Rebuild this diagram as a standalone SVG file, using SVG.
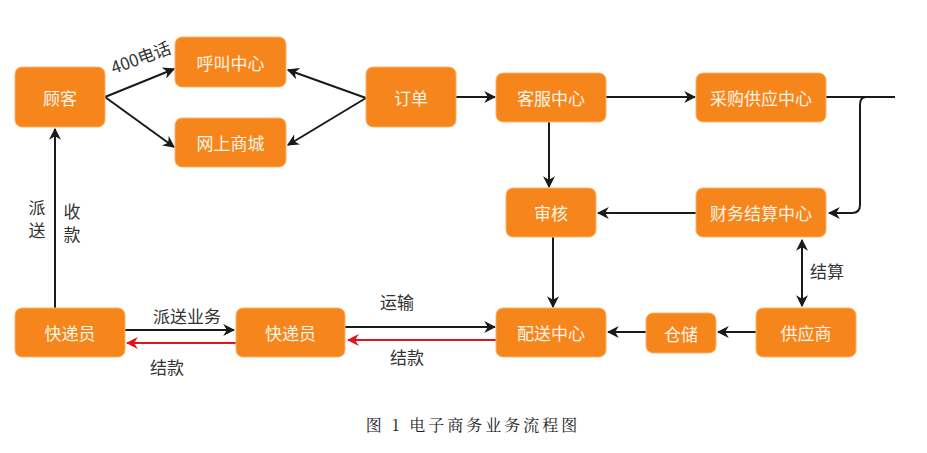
<svg xmlns="http://www.w3.org/2000/svg" width="927" height="453" viewBox="0 0 927 453">
<defs>
<style>
.n rect{fill:#F6851B;stroke:#FBB26A;stroke-width:1}
.n text{fill:#FFF4E6;font-family:"Noto Sans CJK SC","Noto Sans",sans-serif;font-size:17px;text-anchor:middle;dominant-baseline:central}
.c path{fill:none;stroke:#1a1a1a;stroke-width:2}
.c path.r{stroke:#E0141C}
.lb{fill:#333;font-family:"Noto Sans CJK SC","Noto Sans",sans-serif;font-size:17px}
</style>
<marker id="a" viewBox="0 0 10 10" refX="9" refY="5" markerWidth="6" markerHeight="6" orient="auto-start-reverse" markerUnits="strokeWidth"><path d="M0,0 L10,5 L0,10 L3,5 Z" fill="#1a1a1a"/></marker>
<marker id="ar" viewBox="0 0 10 10" refX="9" refY="5" markerWidth="6" markerHeight="6" orient="auto" markerUnits="strokeWidth"><path d="M0,0 L10,5 L0,10 L3,5 Z" fill="#E0141C"/></marker>
</defs>
<rect width="927" height="453" fill="#fff"/>
<g class="c">
<path d="M105,97 L174,69" marker-end="url(#a)"/>
<path d="M105,97 L174,147" marker-end="url(#a)"/>
<path d="M366,98 L288,70" marker-end="url(#a)"/>
<path d="M366,98 L288,145" marker-end="url(#a)"/>
<path d="M456,97 L495,97" marker-end="url(#a)"/>
<path d="M606,97 L695,97" marker-end="url(#a)"/>
<path d="M826,97 L895,97"/>
<path d="M866,97 Q860,97 860,105 L860,205 Q860,213 852,213 L829,213" marker-end="url(#a)"/>
<path d="M549,122 L549,187" marker-end="url(#a)"/>
<path d="M696,213 L598,213" marker-end="url(#a)"/>
<path d="M553,237 L553,307" marker-end="url(#a)"/>
<path d="M802,240 L802,306" marker-start="url(#a)" marker-end="url(#a)"/>
<path d="M756,332 L718,332" marker-end="url(#a)"/>
<path d="M646,332 L608,332" marker-end="url(#a)"/>
<path d="M55,308 L55,129" marker-end="url(#a)"/>
<path d="M125,330 L234,330" marker-end="url(#a)"/>
<path class="r" d="M236,343 L127,343" marker-end="url(#ar)"/>
<path d="M345,327 L495,327" marker-end="url(#a)"/>
<path class="r" d="M496,340 L348,340" marker-end="url(#ar)"/>
</g>
<g id="guke" class="n"><rect x="15" y="67" width="90" height="60" rx="7"/><text x="60" y="97">顾客</text></g>
<g id="hujiao" class="n"><rect x="175" y="37" width="111" height="50" rx="7"/><text x="230.5" y="62">呼叫中心</text></g>
<g id="wangshang" class="n"><rect x="175" y="118" width="111" height="49" rx="7"/><text x="230.5" y="142.5">网上商城</text></g>
<g id="dingdan" class="n"><rect x="366" y="67" width="90" height="60" rx="7"/><text x="411" y="97">订单</text></g>
<g id="kefu" class="n"><rect x="496" y="73" width="110" height="49" rx="7"/><text x="551" y="97.5">客服中心</text></g>
<g id="caigou" class="n"><rect x="696" y="73" width="130" height="49" rx="7"/><text x="761" y="97.5">采购供应中心</text></g>
<g id="shenhe" class="n"><rect x="506" y="188" width="90" height="49" rx="7"/><text x="551" y="212.5">审核</text></g>
<g id="caiwu" class="n"><rect x="696" y="188" width="130" height="49" rx="7"/><text x="761" y="212.5">财务结算中心</text></g>
<g id="kuaidi1" class="n"><rect x="15" y="308" width="110" height="49" rx="7"/><text x="70" y="332.5">快递员</text></g>
<g id="kuaidi2" class="n"><rect x="236" y="308" width="109" height="49" rx="7"/><text x="290.5" y="332.5">快递员</text></g>
<g id="peisong" class="n"><rect x="496" y="308" width="110" height="49" rx="7"/><text x="551" y="332.5">配送中心</text></g>
<g id="cangchu" class="n"><rect x="646" y="313" width="70" height="40" rx="7"/><text x="681" y="333">仓储</text></g>
<g id="gongying" class="n"><rect x="756" y="308" width="100" height="49" rx="7"/><text x="806" y="332.5">供应商</text></g>
<g id="labels">
<text class="lb" x="141" y="64" text-anchor="middle" transform="rotate(-20 141 58)">400电话</text>
<text class="lb" x="37" y="214" text-anchor="middle">派</text>
<text class="lb" x="37" y="237" text-anchor="middle">送</text>
<text class="lb" x="72" y="218" text-anchor="middle">收</text>
<text class="lb" x="72" y="241" text-anchor="middle">款</text>
<text class="lb" x="187" y="323" text-anchor="middle">派送业务</text>
<text class="lb" x="167" y="374" text-anchor="middle">结款</text>
<text class="lb" x="397" y="309" text-anchor="middle">运输</text>
<text class="lb" x="407" y="364" text-anchor="middle">结款</text>
<text class="lb" x="827" y="278" text-anchor="middle">结算</text>
</g>
<text x="473" y="431" text-anchor="middle" fill="#222" font-family="'Noto Serif CJK SC','Liberation Serif','Noto Sans CJK SC',serif" font-size="16" letter-spacing="3">图 1 电子商务业务流程图</text>
</svg>
